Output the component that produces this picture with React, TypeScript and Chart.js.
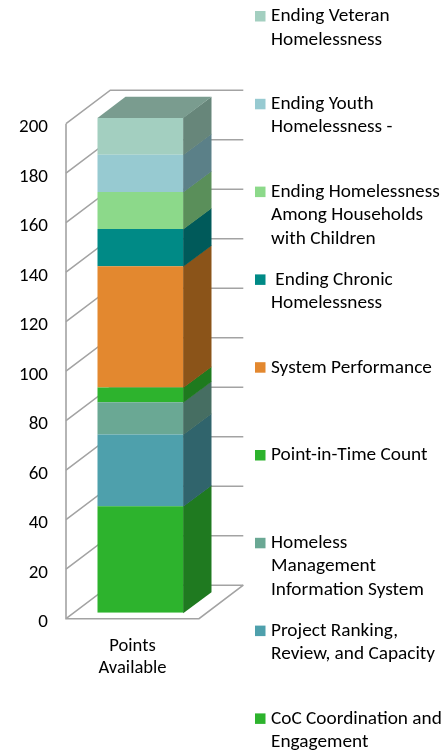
import { useEffect, useRef } from 'react';
import { Chart, registerables } from 'chart.js';

Chart.register(...registerables);

// ---------------- data ----------------
const categories = ['Points Available'];

// series, bottom of the stack first; each name split into its legend lines
const seriesNames: string[][] = [
  ['CoC Coordination and', 'Engagement'],
  ['Project Ranking,', 'Review, and Capacity'],
  ['Homeless', 'Management', 'Information System'],
  ['Point-in-Time Count'],
  ['System Performance'],
  [' Ending Chronic', 'Homelessness'],
  ['Ending Homelessness', 'Among Households', 'with Children'],
  ['Ending Youth', 'Homelessness -'],
  ['Ending Veteran', 'Homelessness'],
];

const seriesValues: number[][] = [[43], [29], [13], [6], [49], [15], [15], [15], [15]];

const yTickValues = [0, 20, 40, 60, 80, 100, 120, 140, 160, 180, 200];

const frontColors = [
  '#2db32d', '#4ea0ac', '#6aa894', '#2db32d', '#e3882f',
  '#008a86', '#8cd98a', '#97cad1', '#a3cfc0',
];
const sideColors = [
  '#1f7a20', '#30646c', '#466e62', '#1e7a1e', '#8b5419',
  '#005a5a', '#5a8f5a', '#5b8088', '#67867a',
];
const topColor = '#7a9c8f';
const gridColor = '#a3a3a3';

// ---------------- 3D geometry (pixels) ----------------
const FRONT = { dx: -8, dy: 6 };      // bar front plane -> axis front plane
const WALL = { dx: 36.3, dy: -27.5 }; // bar front plane -> back wall
const DEPTH = { dx: 28, dy: -21 };    // bar depth

const FONT = 'Calibri, Carlito, Lato, sans-serif';

const threeD = {
  id: 'threeD',
  beforeDatasetsDraw(chart: any) {
    const { ctx, chartArea, scales } = chart;
    const y = scales.y;
    const fx0 = chartArea.left + FRONT.dx;
    const fx1 = chartArea.right + FRONT.dx;
    const wdx = WALL.dx - FRONT.dx;
    const wdy = WALL.dy - FRONT.dy;
    ctx.save();
    ctx.strokeStyle = gridColor;
    ctx.lineWidth = 1.6;
    ctx.lineJoin = 'miter';
    for (const v of yTickValues) {
      const fy = y.getPixelForValue(v) + FRONT.dy;
      ctx.beginPath();
      ctx.moveTo(fx0, fy);
      ctx.lineTo(fx0 + wdx, fy + wdy);
      ctx.lineTo(fx1 + wdx, fy + wdy);
      ctx.stroke();
    }
    const y0 = y.getPixelForValue(0) + FRONT.dy;
    const yMax = y.getPixelForValue(yTickValues[yTickValues.length - 1]) + FRONT.dy;
    ctx.beginPath();
    ctx.moveTo(fx0, yMax);
    ctx.lineTo(fx0, y0);
    ctx.lineTo(fx1, y0);
    ctx.lineTo(fx1 + wdx, y0 + wdy);
    ctx.stroke();
    ctx.restore();
  },
  afterDatasetsDraw(chart: any) {
    const { ctx } = chart;
    const n = chart.data.datasets.length;
    ctx.save();
    for (let i = 0; i < n; i++) {
      const meta = chart.getDatasetMeta(i);
      meta.data.forEach((el: any) => {
        const { x, y, base, width } = el.getProps(['x', 'y', 'base', 'width'], true);
        const left = x - width / 2;
        const right = x + width / 2;
        const top = Math.min(y, base);
        const bottom = Math.max(y, base);
        ctx.fillStyle = sideColors[i];
        ctx.beginPath();
        ctx.moveTo(right - 0.3, top);
        ctx.lineTo(right + DEPTH.dx, top + DEPTH.dy);
        ctx.lineTo(right + DEPTH.dx, bottom + DEPTH.dy + 0.5);
        ctx.lineTo(right - 0.3, bottom + 0.5);
        ctx.closePath();
        ctx.fill();
        if (i === n - 1) {
          ctx.fillStyle = topColor;
          ctx.beginPath();
          ctx.moveTo(left, top + 0.3);
          ctx.lineTo(right, top + 0.3);
          ctx.lineTo(right + DEPTH.dx, top + DEPTH.dy);
          ctx.lineTo(left + DEPTH.dx, top + DEPTH.dy);
          ctx.closePath();
          ctx.fill();
        }
      });
    }
    ctx.restore();
  },
  afterDraw(chart: any) {
    const { ctx } = chart;
    const n = chart.data.datasets.length;
    const firstY = 16.5;
    const pitch = 87.8;
    const lineH = 23.3;
    ctx.save();
    ctx.font = `19.3px ${FONT}`;
    ctx.textBaseline = 'middle';
    ctx.textAlign = 'left';
    for (let k = 0; k < n; k++) {
      const i = n - 1 - k;
      const cy = firstY + k * pitch;
      ctx.fillStyle = frontColors[i];
      ctx.fillRect(255, cy - 5.5, 10.5, 10.5);
      ctx.fillStyle = '#000000';
      seriesNames[i].forEach((line, j) => {
        ctx.fillText(line, 271, cy + j * lineH);
      });
    }
    ctx.restore();
  },
};

export default function App() {
  const ref = useRef<HTMLCanvasElement>(null);
  useEffect(() => {
    document.body.style.margin = '0';
    if (!ref.current) return;
    const chart = new Chart(ref.current, {
      type: 'bar',
      data: {
        labels: categories,
        datasets: seriesNames.map((lines, i) => ({
          label: lines.map((s) => s.trim()).join(' '),
          data: seriesValues[i],
          backgroundColor: frontColors[i],
          borderWidth: 0,
          categoryPercentage: 1,
          barPercentage: 0.6466,
        })),
      },
      options: {
        responsive: false,
        animation: false,
        layout: { padding: { top: 117.7, right: 238, bottom: 0, left: 0 } },
        plugins: { legend: { display: false }, tooltip: { enabled: false } },
        scales: {
          x: {
            stacked: true,
            grid: { display: false, drawTicks: false },
            border: { display: false },
            ticks: {
              color: '#000000',
              font: { family: FONT, size: 18.6, lineHeight: 1.18 },
              padding: 23,
              labelOffset: -8,
              maxRotation: 0,
              callback: (_v: any, idx: number) => categories[idx].split(' '),
            },
            afterFit: (s: any) => {
              s.height = 140.3;
            },
          },
          y: {
            stacked: true,
            min: 0,
            max: 200,
            grid: { display: false, drawTicks: false },
            border: { display: false },
            ticks: {
              stepSize: 20,
              color: '#000000',
              font: { family: FONT, size: 19 },
              padding: 26,
              labelOffset: 10,
            },
            afterFit: (s: any) => {
              s.width = 74;
            },
          },
        },
      },
      plugins: [threeD],
    });
    return () => chart.destroy();
  }, []);
  return (
    <div style={{ width: 445, height: 753, position: 'relative', background: '#ffffff' }}>
      <canvas ref={ref} width={445} height={753} style={{ display: 'block' }} />
    </div>
  );
}
